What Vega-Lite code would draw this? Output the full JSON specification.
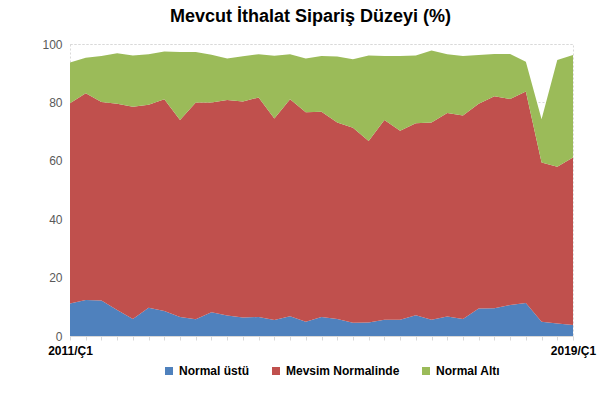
{
  "$schema": "https://vega.github.io/schema/vega-lite/v6.json",
  "autosize": {"type": "none"},
  "width": 503,
  "height": 292,
  "padding": {"left": 70, "top": 44, "right": 41, "bottom": 74},
  "background": "white",
  "title": {"text": "Mevcut İthalat Sipariş Düzeyi (%)", "fontSize": 18, "font": "Liberation Sans", "fontWeight": "bold", "color": "#000000", "offset": 12, "dx": -11},
  "data": {"values": [
    {"q": "2011/Ç1", "a": 11.1, "b": 68.6, "c": 14.0},
    {"q": "2011/Ç2", "a": 12.3, "b": 70.8, "c": 12.2},
    {"q": "2011/Ç3", "a": 12.2, "b": 67.9, "c": 15.8},
    {"q": "2011/Ç4", "a": 8.9, "b": 70.6, "c": 17.3},
    {"q": "2012/Ç1", "a": 5.8, "b": 72.7, "c": 17.6},
    {"q": "2012/Ç2", "a": 9.7, "b": 69.5, "c": 17.3},
    {"q": "2012/Ç3", "a": 8.6, "b": 72.5, "c": 16.3},
    {"q": "2012/Ç4", "a": 6.5, "b": 67.5, "c": 23.3},
    {"q": "2013/Ç1", "a": 5.7, "b": 74.3, "c": 17.3},
    {"q": "2013/Ç2", "a": 8.1, "b": 71.9, "c": 16.3},
    {"q": "2013/Ç3", "a": 7.0, "b": 73.8, "c": 14.2},
    {"q": "2013/Ç4", "a": 6.3, "b": 74.0, "c": 15.5},
    {"q": "2014/Ç1", "a": 6.5, "b": 75.2, "c": 14.8},
    {"q": "2014/Ç2", "a": 5.5, "b": 69.0, "c": 21.5},
    {"q": "2014/Ç3", "a": 6.8, "b": 74.3, "c": 15.4},
    {"q": "2014/Ç4", "a": 4.9, "b": 71.7, "c": 18.4},
    {"q": "2015/Ç1", "a": 6.5, "b": 70.3, "c": 19.1},
    {"q": "2015/Ç2", "a": 5.8, "b": 67.3, "c": 22.6},
    {"q": "2015/Ç3", "a": 4.5, "b": 66.8, "c": 23.5},
    {"q": "2015/Ç4", "a": 4.6, "b": 62.2, "c": 29.3},
    {"q": "2016/Ç1", "a": 5.6, "b": 68.4, "c": 21.9},
    {"q": "2016/Ç2", "a": 5.6, "b": 64.7, "c": 25.6},
    {"q": "2016/Ç3", "a": 7.1, "b": 65.8, "c": 23.2},
    {"q": "2016/Ç4", "a": 5.6, "b": 67.5, "c": 24.7},
    {"q": "2017/Ç1", "a": 6.7, "b": 69.7, "c": 20.1},
    {"q": "2017/Ç2", "a": 5.8, "b": 69.7, "c": 20.4},
    {"q": "2017/Ç3", "a": 9.4, "b": 70.1, "c": 16.7},
    {"q": "2017/Ç4", "a": 9.5, "b": 72.6, "c": 14.5},
    {"q": "2018/Ç1", "a": 10.6, "b": 70.6, "c": 15.4},
    {"q": "2018/Ç2", "a": 11.3, "b": 72.4, "c": 10.2},
    {"q": "2018/Ç3", "a": 4.9, "b": 54.5, "c": 14.8},
    {"q": "2018/Ç4", "a": 4.3, "b": 53.7, "c": 36.5},
    {"q": "2019/Ç1", "a": 3.8, "b": 57.3, "c": 35.1}
  ]},
  "transform": [
    {"fold": ["a", "b", "c"], "as": ["k", "v"]}
  ],
  "mark": {"type": "area", "opacity": 1},
  "encoding": {
    "x": {"field": "q", "type": "ordinal", "scale": {"type": "point", "padding": 0}, "sort": null,
      "axis": {"title": null, "labelAngle": 0, "labelExpr": "datum.value == '2011/Ç1' || datum.value == '2019/Ç1' ? datum.value : ''",
        "labelFont": "Liberation Sans", "labelFontSize": 12, "labelFontWeight": "bold", "labelColor": "#000000", "labelPadding": 5,
        "tickColor": "#d9d9d9", "tickSize": 4, "domainColor": "#d9d9d9", "grid": false, "labelOverlap": false}},
    "y": {"field": "v", "type": "quantitative", "stack": "zero", "scale": {"domain": [0, 100], "nice": false},
      "axis": {"title": null, "values": [0, 20, 40, 60, 80, 100], "domain": false, "ticks": false, "labelPadding": 8,
        "labelFont": "Liberation Sans", "labelFontSize": 12, "labelColor": "#595959",
        "gridColor": "#d9d9d9", "gridDash": [2, 2]}},
    "color": {"field": "k", "type": "nominal",
      "scale": {"domain": ["a", "b", "c"], "range": ["#4F81BD", "#C0504D", "#9BBB59"]},
      "legend": {"title": null, "orient": "none", "legendX": 93, "legendY": 321, "direction": "horizontal", "symbolType": "square", "symbolSize": 64,
        "labelExpr": "{'a': 'Normal üstü', 'b': 'Mevsim Normalinde', 'c': 'Normal Altı'}[datum.value]",
        "labelFont": "Liberation Sans", "labelFontSize": 12, "labelFontWeight": "bold", "labelColor": "#000000",
        "columnPadding": 20, "symbolStrokeWidth": 0, "labelOffset": 4}},
    "order": {"field": "k", "sort": "ascending"}
  },
  "config": {"view": {"stroke": "#d9d9d9", "strokeDash": [2, 2]}}
}
